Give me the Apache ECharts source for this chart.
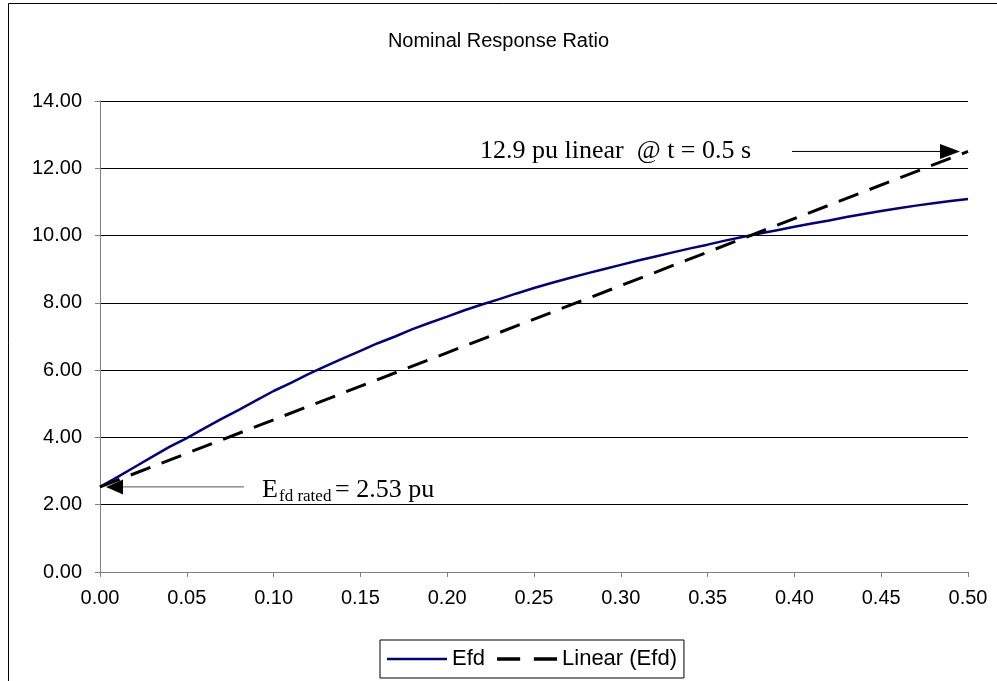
<!DOCTYPE html>
<html>
<head>
<meta charset="utf-8">
<script src="https://cdn.jsdelivr.net/npm/echarts@6/dist/echarts.min.js"></script>
<style>
  html, body { margin: 0; padding: 0; background: #fff; }
  #main { width: 997px; height: 681px; }
</style>
</head>
<body>
<div id="main"></div>
<script>
// 时间 (s)
var timeS = [0.00, 0.01, 0.02, 0.03, 0.04, 0.05, 0.06, 0.07, 0.08, 0.09,
  0.10, 0.11, 0.12, 0.13, 0.14, 0.15, 0.16, 0.17, 0.18, 0.19,
  0.20, 0.21, 0.22, 0.23, 0.24, 0.25, 0.26, 0.27, 0.28, 0.29,
  0.30, 0.31, 0.32, 0.33, 0.34, 0.35, 0.36, 0.37, 0.38, 0.39,
  0.40, 0.41, 0.42, 0.43, 0.44, 0.45, 0.46, 0.47, 0.48, 0.49, 0.50]
// Efd (pu)
var efdValues = [2.53, 2.82, 3.12, 3.42, 3.72, 3.98, 4.27, 4.55, 4.82, 5.10,
  5.38, 5.62, 5.88, 6.12, 6.35, 6.57, 6.80, 7.00, 7.22, 7.41,
  7.59, 7.78, 7.95, 8.11, 8.28, 8.44, 8.59, 8.73, 8.87, 9.00,
  9.13, 9.26, 9.38, 9.50, 9.62, 9.73, 9.85, 9.96, 10.06, 10.16,
  10.26, 10.36, 10.45, 10.55, 10.64, 10.73, 10.81, 10.89, 10.96, 11.03, 11.09]
// Linear (Efd)
var linearTime = [0.00, 0.50]
var linearValues = [2.53, 12.5]
var seriesNames = ['Efd', 'Linear (Efd)']

var sans = 'Liberation Sans, Arial, sans-serif'
var serif = 'Liberation Serif, Times New Roman, serif'

function pairs(xs, ys) {
  return xs.map(function (x, i) { return [x, ys[i]] })
}

var myChart = echarts.init(document.getElementById('main'))
var option = {
  backgroundColor: '#fff',
  animation: false,
  title: {
    text: 'Nominal Response Ratio',
    left: 'center',
    top: 26,
    textStyle: {
      fontFamily: sans,
      fontWeight: 'normal',
      fontSize: 20,
      color: '#000'
    }
  },
  grid: {
    left: 100,
    right: 29,
    top: 101,
    bottom: 109
  },
  legend: {
    // 图例图标：实线 / 虚线
    data: [
      { name: seriesNames[0], icon: 'path://M0,0h60v2.5h-60z' },
      { name: seriesNames[1], icon: 'path://M0,0h22v3.2h-22zM35,0h22v3.2h-22z' }
    ],
    bottom: 3,
    left: 380,
    itemWidth: 60,
    itemHeight: 14,
    itemGap: 12,
    borderColor: '#000',
    borderWidth: 1,
    borderRadius: 0,
    padding: [8, 7],
    textStyle: {
      fontFamily: sans,
      fontSize: 22,
      color: '#000'
    }
  },
  xAxis: {
    type: 'value',
    min: 0,
    max: 0.5,
    interval: 0.05,
    axisLine: { lineStyle: { color: '#808080', width: 1 } },
    axisTick: { length: 5, lineStyle: { color: '#808080' } },
    splitLine: { show: false },
    axisLabel: {
      margin: 16,
      color: '#000',
      fontFamily: sans,
      fontSize: 20,
      formatter: function (v) { return v.toFixed(2) }
    }
  },
  yAxis: {
    type: 'value',
    min: 0,
    max: 14,
    interval: 2,
    axisLine: { show: true, lineStyle: { color: '#808080', width: 1 } },
    axisTick: { show: true, length: 5, lineStyle: { color: '#808080' } },
    splitLine: { lineStyle: { color: '#000', width: 1 } },
    axisLabel: {
      margin: 18,
      color: '#000',
      fontFamily: sans,
      fontSize: 20,
      formatter: function (v) { return v.toFixed(2) }
    }
  },
  series: [
    {
      name: seriesNames[0],
      type: 'line',
      symbol: 'none',
      data: pairs(timeS, efdValues),
      lineStyle: { color: '#000080', width: 2.5 },
      itemStyle: { color: '#000080' },
      z: 3
    },
    {
      name: seriesNames[1],
      type: 'line',
      symbol: 'none',
      data: pairs(linearTime, linearValues),
      lineStyle: { color: '#000', width: 3, type: [21, 12] },
      itemStyle: { color: '#000' },
      z: 4
    }
  ]
}
myChart.setOption(option)

// 注释箭头和文字
var startPt = myChart.convertToPixel({ gridIndex: 0 }, [linearTime[0], linearValues[0]])
var endPt = myChart.convertToPixel({ gridIndex: 0 }, [linearTime[1], linearValues[1]])
var lx = startPt[0] + 6, ly = startPt[1]
var rx = endPt[0] - 8, ry = endPt[1]

myChart.setOption({
  graphic: [
    {
      type: 'rect',
      silent: true,
      shape: { x: 8.5, y: 3.5, width: 995, height: 700 },
      style: { fill: 'none', stroke: '#000', lineWidth: 1 }
    },
    // 左侧箭头
    {
      type: 'line',
      silent: true,
      shape: { x1: lx + 16, y1: ly, x2: lx + 138, y2: ly },
      style: { stroke: '#555', lineWidth: 1 },
      z: 10
    },
    {
      type: 'polygon',
      silent: true,
      shape: { points: [[lx, ly], [lx + 17, ly - 7.5], [lx + 17, ly + 7.5]] },
      style: { fill: '#000' },
      z: 10
    },
    {
      type: 'text',
      silent: true,
      x: 262, y: ly + 3,
      style: { text: 'E', font: '26px ' + serif, fill: '#000', verticalAlign: 'middle' },
      z: 10
    },
    {
      type: 'text',
      silent: true,
      x: 279, y: ly + 10,
      style: { text: 'fd rated', font: '17px ' + serif, fill: '#000', verticalAlign: 'middle' },
      z: 10
    },
    {
      type: 'text',
      silent: true,
      x: 335, y: ly + 3,
      style: { text: '= 2.53 pu', font: '26px ' + serif, fill: '#000', verticalAlign: 'middle' },
      z: 10
    },
    // 右上箭头
    {
      type: 'line',
      silent: true,
      shape: { x1: 792, y1: ry, x2: rx - 16, y2: ry },
      style: { stroke: '#000', lineWidth: 1 },
      z: 10
    },
    {
      type: 'polygon',
      silent: true,
      shape: { points: [[rx, ry], [rx - 20, ry - 7.5], [rx - 20, ry + 7.5]] },
      style: { fill: '#000' },
      z: 10
    },
    {
      type: 'text',
      silent: true,
      x: 480, y: ry,
      style: { text: '12.9 pu linear  @ t = 0.5 s', font: '26px ' + serif, fill: '#000', verticalAlign: 'middle' },
      z: 10
    }
  ]
})
</script>
</body>
</html>
